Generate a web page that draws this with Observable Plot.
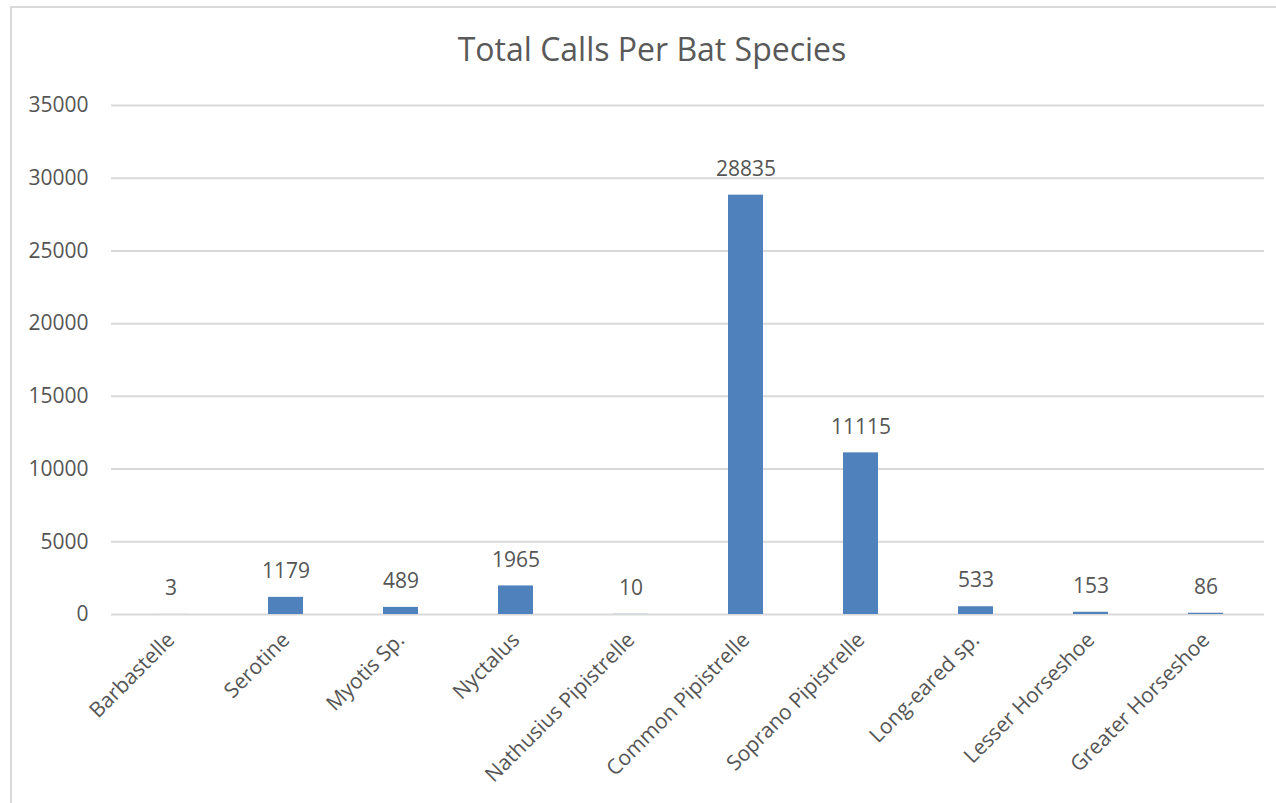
<!DOCTYPE html>
<html>
<head>
<meta charset="utf-8">
<script src="https://cdn.jsdelivr.net/npm/d3@7"></script>
<script src="https://cdn.jsdelivr.net/npm/@observablehq/plot@0.6"></script>
<style>
  html, body { margin: 0; padding: 0; background: #fff; overflow: hidden; width: 1276px; height: 803px; }
  #frame { position: absolute; left: 10px; top: 6px; width: 1300px; height: 830px; border: 2px solid #d9d9d9; box-sizing: border-box; }
  #title { position: absolute; left: 0; top: 26px; width: 1304px; text-align: center; font-family: "Open Sans", sans-serif; font-size: 32px; color: #595959; line-height: 46px; }
  #chart { position: absolute; left: 0; top: 80px; }
</style>
</head>
<body>
<div id="frame"></div>
<div id="title">Total Calls Per Bat Species</div>
<div id="chart"></div>
<script>
const species = ["Barbastelle", "Serotine", "Myotis Sp.", "Nyctalus", "Nathusius Pipistrelle", "Common Pipistrelle", "Soprano Pipistrelle", "Long-eared sp.", "Lesser Horseshoe", "Greater Horseshoe"];
const calls = [3, 1179, 489, 1965, 10, 28835, 11115, 533, 153, 86];
const yTicks = [0, 5000, 10000, 15000, 20000, 25000, 30000, 35000];

const data = species.map((s, i) => ({species: s, calls: calls[i]}));
const textColor = "#555555";
const font = "Open Sans, sans-serif";

const plot = Plot.plot({
  width: 1276,
  height: 723,
  marginTop: 25,
  marginBottom: 189,
  marginLeft: 111,
  marginRight: 12,
  style: {fontFamily: font, fontSize: "21px", color: textColor, background: "transparent", overflow: "visible"},
  x: {domain: species, padding: 0, label: null},
  y: {domain: [0, 35000], label: null},
  marks: [
    Plot.gridY(yTicks, {stroke: "#d9d9d9", strokeOpacity: 1, strokeWidth: 2}),
    Plot.barY(data, {x: "species", y: "calls", fill: "#4f81bd", insetLeft: 40, insetRight: 40}),
    Plot.text(data, {x: "species", y: "calls", text: d => String(d.calls), dy: -26, fill: textColor, fontSize: 21}),
    Plot.axisY(yTicks, {tickSize: 0, tickPadding: 23, tickFormat: d => String(d), fill: textColor, fontSize: 21, label: null}),
    Plot.axisX({tickSize: 0, tickPadding: 22, tickRotate: -45, fill: textColor, fontSize: 21, label: null})
  ]
});
document.getElementById("chart").appendChild(plot);
</script>
</body>
</html>
